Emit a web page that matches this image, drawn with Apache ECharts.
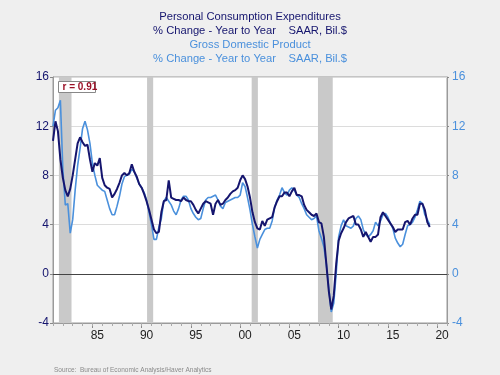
<!DOCTYPE html>
<html>
<head>
<meta charset="utf-8">
<script src="https://cdn.jsdelivr.net/npm/echarts@6/dist/echarts.min.js"></script>
<style>
  html, body { margin: 0; padding: 0; background: #efefef; }
  #main { width: 500px; height: 375px; }
</style>
</head>
<body>
<div id="main"></div>
<script>
// quarterly data, 1981Q1 .. 2019Q2, % change year to year
var startYear = 1981;

var pce = [
  10.8, 12.4, 11.6, 9.3,
  7.8, 6.8, 6.3, 6.9,
  8.0, 9.3, 10.6, 11.1,
  10.7, 10.4, 10.5, 9.3,
  8.3, 9.0, 8.8, 9.4,
  7.8, 7.2, 7.0, 6.9,
  6.2, 6.5, 6.9, 7.4,
  8.0, 8.2, 8.0, 8.2,
  8.9, 8.3, 7.9, 7.3,
  7.0, 6.5, 5.9, 5.2,
  4.4, 3.6, 3.3, 3.4,
  5.0, 5.9, 6.0, 7.6,
  6.2, 6.1, 6.0, 6.0,
  5.9, 6.2, 6.0, 5.9,
  5.9, 5.6, 5.2, 4.9,
  5.3, 5.7, 5.9, 5.8,
  5.7, 4.8, 5.7, 6.0,
  5.6, 5.7, 6.0, 6.2,
  6.5, 6.7, 6.8, 7.0,
  7.6, 8.0, 7.7, 7.1,
  6.2, 5.0, 4.2, 3.7,
  3.6, 4.3, 3.9, 4.4,
  4.5, 4.6, 5.4, 5.9,
  6.3, 6.3, 6.6, 6.6,
  6.3, 6.7, 7.0, 6.4,
  6.4, 6.3, 5.6, 5.2,
  5.0, 4.8, 4.7, 4.9,
  4.2, 4.1, 3.0, 0.8,
  -1.4, -2.9, -1.8, 0.8,
  2.7, 3.3, 3.7, 4.2,
  4.5, 4.6, 4.7, 4.0,
  4.0, 3.6, 3.0, 3.4,
  3.0, 2.6, 3.0, 3.0,
  3.2, 4.6, 5.0, 4.7,
  4.4, 4.1, 3.8, 3.4,
  3.6, 3.6, 3.6, 4.2,
  4.3, 4.0, 4.5, 4.8,
  4.8, 5.7, 5.7, 5.2,
  4.2, 3.8
];

var gdp = [
  12.0, 13.3, 13.5, 14.1,
  8.5, 5.6, 5.7, 3.3,
  4.4, 6.8, 8.8, 10.2,
  11.8, 12.4, 11.7, 10.6,
  9.0, 8.0, 7.2, 7.0,
  6.8, 6.7, 6.0, 5.3,
  4.8, 4.8, 5.5, 6.3,
  7.3, 7.9, 8.0, 8.1,
  8.5, 8.3, 7.8, 7.3,
  7.0, 6.6, 6.0, 5.0,
  4.0, 2.8, 2.8, 3.8,
  4.5, 5.9, 6.2, 5.9,
  5.6, 5.1, 4.8, 5.3,
  6.0, 6.3, 6.3, 6.0,
  5.3, 4.9, 4.6, 4.4,
  4.5, 5.3, 6.0, 6.2,
  6.2, 6.3, 6.4, 6.0,
  5.5, 5.3, 5.8, 5.9,
  6.0, 6.1, 6.2, 6.2,
  6.4, 7.4, 7.1, 6.2,
  5.2, 4.0, 3.0, 2.1,
  2.8, 3.2, 3.6, 3.7,
  3.7, 4.3, 5.4, 6.0,
  6.4, 7.0, 6.6, 6.4,
  6.8, 7.0, 6.8, 6.4,
  6.2, 5.7, 5.3, 4.8,
  4.6, 4.4, 4.5, 4.7,
  3.5, 2.9, 2.2, 0.8,
  -1.2, -3.1, -2.4, 0.0,
  3.0, 3.9, 4.4, 3.9,
  3.8, 3.7, 3.9, 4.5,
  4.7, 4.4, 3.6, 3.2,
  3.0, 3.2, 3.5, 4.2,
  3.9, 4.3, 4.8, 4.9,
  4.6, 4.1, 3.7, 2.9,
  2.5, 2.2, 2.4, 3.2,
  3.9, 4.0, 4.2, 4.6,
  5.2, 5.9, 5.7, 4.8,
  4.4, 4.0
];

// recessions (start, end) in fractional years
var recessions = [
  [1981.6, 1982.88],
  [1990.55, 1991.17],
  [2001.17, 2001.8],
  [2007.9, 2009.4]
];

var labelYears = [1985, 1990, 1995, 2000, 2005, 2010, 2015, 2020];
var yearLabels = ['85', '90', '95', '00', '05', '10', '15', '20'];

var navy = '#15156e';
var lightBlue = '#4a90dc';

function toPairs(arr) {
  return arr.map(function (v, i) { return [startYear + i / 4, v]; });
}

var allYears = [];
for (var y = 1981; y <= 2021; y++) allYears.push(y);

var chart = echarts.init(document.getElementById('main'));

var option = {
  backgroundColor: '#efefef',
  animation: false,
  grid: {
    left: 53, right: 53, top: 77, bottom: 52,
    show: true, backgroundColor: '#ffffff', borderColor: '#9a9a9a', borderWidth: 1
  },
  xAxis: [{
    type: 'value',
    min: 1981, max: 2021,
    axisLine: { show: true, onZero: false, lineStyle: { color: '#9a9a9a' } },
    axisTick: { show: true, length: 5, customValues: labelYears, lineStyle: { color: '#888' } },
    axisLabel: {
      customValues: labelYears.map(function (v) { return v + 0.5; }),
      formatter: function (v) { return yearLabels[labelYears.indexOf(v - 0.5)]; },
      color: '#222', fontSize: 12, fontFamily: 'Liberation Sans', margin: 7
    },
    splitLine: { show: false }
  }, {
    type: 'value',
    min: 1981, max: 2021,
    position: 'bottom',
    axisLine: { show: false, onZero: false },
    axisTick: { show: true, length: 3, customValues: allYears, lineStyle: { color: '#aaa' } },
    axisLabel: { show: false },
    splitLine: { show: false }
  }],
  yAxis: [{
    type: 'value', min: -4, max: 16, interval: 4,
    axisLine: { show: true, lineStyle: { color: '#9a9a9a' } },
    axisTick: { show: true, length: 3, lineStyle: { color: '#888' } },
    axisLabel: { color: navy, fontSize: 12, fontFamily: 'Liberation Sans', margin: 4 },
    splitLine: { show: true, lineStyle: { color: '#dcdcdc', width: 1 } }
  }, {
    type: 'value', min: -4, max: 16, interval: 4, position: 'right',
    axisLine: { show: true, lineStyle: { color: '#9a9a9a' } },
    axisTick: { show: true, length: 2, lineStyle: { color: '#888' } },
    axisLabel: { color: lightBlue, fontSize: 12, fontFamily: 'Liberation Sans', margin: 5 },
    splitLine: { show: false }
  }],
  series: [{
    name: 'Recessions',
    type: 'line',
    z: 1,
    data: [],
    silent: true,
    markArea: {
      silent: true,
      itemStyle: { color: '#c9c9c9' },
      data: recessions.map(function (r) {
        return [{ xAxis: r[0], yAxis: -4 }, { xAxis: r[1], yAxis: 16 }];
      })
    },
    markLine: {
      silent: true, symbol: 'none', label: { show: false },
      lineStyle: { color: '#444', width: 1, type: 'solid' },
      data: [{ yAxis: 0 }]
    }
  }, {
    name: 'Gross Domestic Product',
    type: 'line',
    z: 5,
    yAxisIndex: 1,
    data: toPairs(gdp),
    showSymbol: false,
    lineStyle: { color: lightBlue, width: 1.6 },
    itemStyle: { color: lightBlue }
  }, {
    name: 'Personal Consumption Expenditures',
    type: 'line',
    z: 6,
    data: toPairs(pce),
    showSymbol: false,
    lineStyle: { color: navy, width: 2 },
    itemStyle: { color: navy }
  }],
  graphic: [
    { type: 'text', left: 'center', top: 11, z: 100,
      style: { text: 'Personal Consumption Expenditures', fill: navy, font: '11.2px "Liberation Sans"' } },
    { type: 'text', left: 'center', top: 25, z: 100,
      style: { text: '% Change - Year to Year    SAAR, Bil.$', fill: navy, font: '11.2px "Liberation Sans"' } },
    { type: 'text', left: 'center', top: 39.5, z: 100,
      style: { text: 'Gross Domestic Product', fill: lightBlue, font: '11.2px "Liberation Sans"' } },
    { type: 'text', left: 'center', top: 53.5, z: 100,
      style: { text: '% Change - Year to Year    SAAR, Bil.$', fill: lightBlue, font: '11.2px "Liberation Sans"' } },
    { type: 'group', left: 58, top: 81, z: 100, children: [
      { type: 'rect', z: 100, shape: { x: 0, y: 0, width: 37, height: 11 },
        style: { fill: '#fff', stroke: '#888', lineWidth: 1 } },
      { type: 'text', z: 101, x: 4, y: 1,
        style: { text: 'r = 0.91', fill: '#9b1026', font: 'bold 10px "Liberation Sans"' } }
    ] },
    { type: 'text', left: 54, top: 367, z: 100,
      style: { text: 'Source:  Bureau of Economic Analysis/Haver Analytics', fill: '#8a8a8a', font: '6.5px "Liberation Sans"' } }
  ]
};

chart.setOption(option);
</script>
</body>
</html>
